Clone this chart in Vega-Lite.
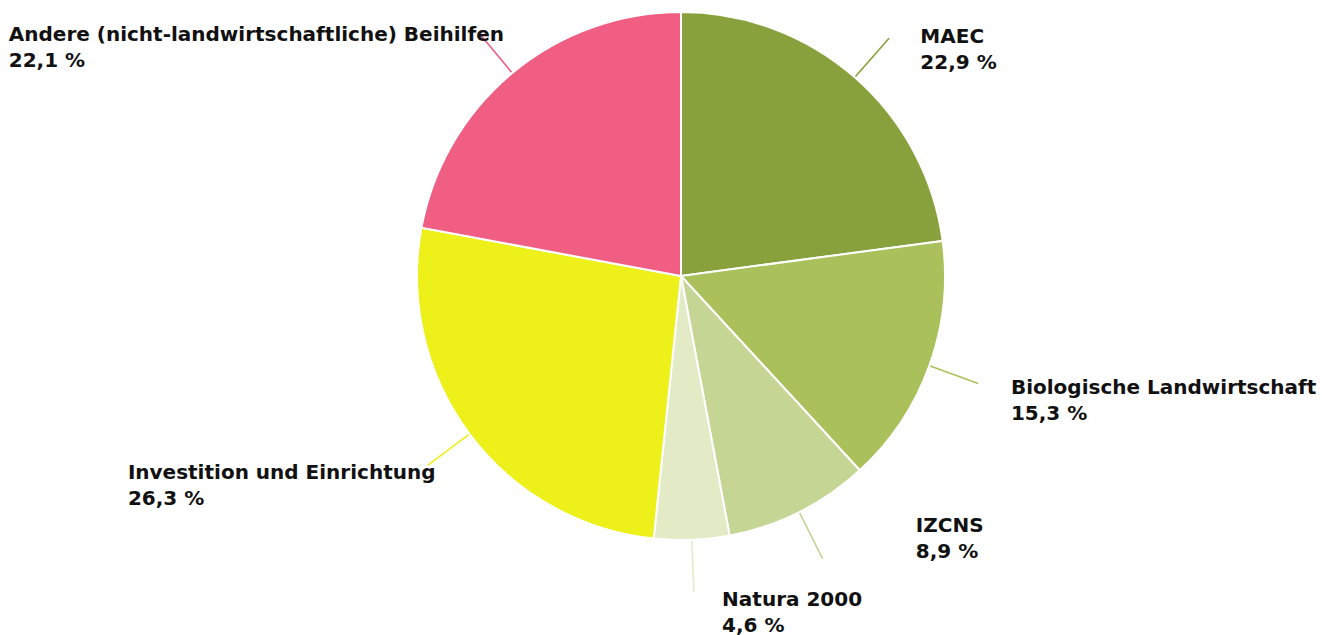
{
  "$schema": "https://vega.github.io/schema/vega-lite/v6.json",
  "autosize": {"type": "none"},
  "width": 1282,
  "height": 552,
  "padding": {"left": 40, "top": 0, "right": 0, "bottom": 83},
  "background": "white",
  "config": {
    "view": {"stroke": null},
    "text": {"font": "DejaVu Sans", "fontWeight": "bold", "fontSize": 20, "lineHeight": 26, "lineBreak": "\n", "color": "#111111", "baseline": "alphabetic", "align": "left"}
  },
  "data": {
    "values": [
      {"name": "MAEC", "value": 22.9, "rank": 1},
      {"name": "Biologische Landwirtschaft", "value": 15.3, "rank": 2},
      {"name": "IZCNS", "value": 8.9, "rank": 3},
      {"name": "Natura 2000", "value": 4.6, "rank": 4},
      {"name": "Investition und Einrichtung", "value": 26.3, "rank": 5},
      {"name": "Andere (nicht-landwirtschaftliche) Beihilfen", "value": 22.1, "rank": 6}
    ]
  },
  "transform": [
    {"stack": "value", "groupby": [], "sort": [{"field": "rank", "order": "ascending"}], "as": ["v0", "v1"]},
    {"calculate": "(datum.v0 + datum.v1) / 2", "as": "mid"},
    {"calculate": "datum.name + '\\n' + replace(format(datum.value, '.1f'), '.', ',') + ' %'", "as": "label"}
  ],
  "layer": [
    {
      "mark": {"type": "arc", "outerRadius": 264, "stroke": "white", "strokeWidth": 2},
      "encoding": {
        "theta": {"field": "v0", "type": "quantitative", "stack": null, "scale": {"domain": [0, 100.1], "nice": false}},
        "theta2": {"field": "v1"},
        "color": {
          "field": "name", "type": "nominal", "legend": null,
          "scale": {
            "domain": ["MAEC", "Biologische Landwirtschaft", "IZCNS", "Natura 2000", "Investition und Einrichtung", "Andere (nicht-landwirtschaftliche) Beihilfen"],
            "range": ["#88a13c", "#a9c05b", "#c5d594", "#e2ebc6", "#eef01a", "#f05e84"]
          }
        }
      }
    },
    {
      "mark": {"type": "arc", "radius": 316, "radius2": 265, "filled": false, "strokeWidth": 1.6},
      "encoding": {
        "theta": {"field": "mid", "type": "quantitative", "stack": null, "scale": {"domain": [0, 100.1], "nice": false}},
        "theta2": {"field": "mid"},
        "color": {"field": "name", "type": "nominal", "legend": null}
      }
    },
    {
      "transform": [{"filter": {"field": "name", "oneOf": ["MAEC", "Biologische Landwirtschaft", "Natura 2000"]}}],
      "mark": {"type": "text", "radius": 321, "dx": 28, "dy": 9},
      "encoding": {
        "theta": {"field": "mid", "type": "quantitative", "stack": null, "scale": {"domain": [0, 100.1], "nice": false}},
        "text": {"field": "label", "type": "nominal"}
      }
    },
    {
      "transform": [{"filter": {"field": "name", "equal": "IZCNS"}}],
      "mark": {"type": "text", "radius": 321, "dx": 91, "dy": -31},
      "encoding": {
        "theta": {"field": "mid", "type": "quantitative", "stack": null, "scale": {"domain": [0, 100.1], "nice": false}},
        "text": {"field": "label", "type": "nominal"}
      }
    },
    {
      "transform": [{"filter": {"field": "name", "equal": "Investition und Einrichtung"}}],
      "mark": {"type": "text", "radius": 321, "dx": -296, "dy": 11},
      "encoding": {
        "theta": {"field": "mid", "type": "quantitative", "stack": null, "scale": {"domain": [0, 100.1], "nice": false}},
        "text": {"field": "label", "type": "nominal"}
      }
    },
    {
      "transform": [{"filter": {"field": "name", "equal": "Andere (nicht-landwirtschaftliche) Beihilfen"}}],
      "mark": {"type": "text", "radius": 321, "dx": -467, "dy": 12},
      "encoding": {
        "theta": {"field": "mid", "type": "quantitative", "stack": null, "scale": {"domain": [0, 100.1], "nice": false}},
        "text": {"field": "label", "type": "nominal"}
      }
    }
  ]
}
